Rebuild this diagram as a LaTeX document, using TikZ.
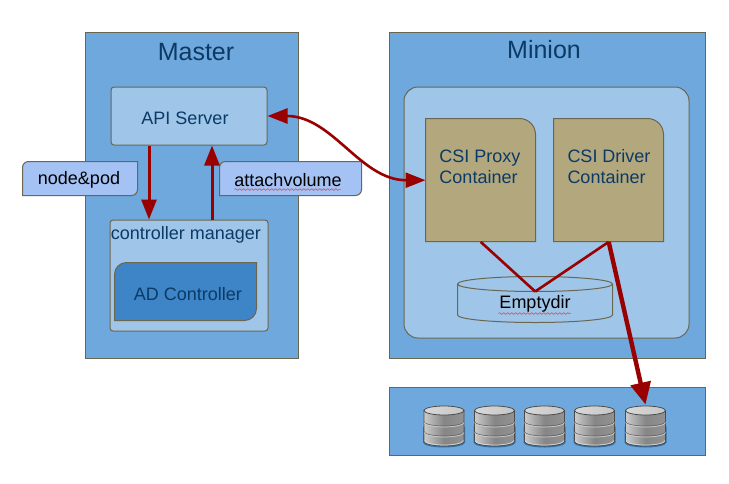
\documentclass[tikz,border=0pt]{standalone}
\usepackage{fontspec}
\usepackage{xcolor}
\usepackage{tikz}
\usetikzlibrary{arrows.meta,positioning,decorations.pathmorphing}
\setmainfont{Liberation Sans}

\definecolor{panelblue}{HTML}{6FA8DC}
\definecolor{softblue}{HTML}{9FC5E8}
\definecolor{deepblue}{HTML}{3D85C6}
\definecolor{tagblue}{HTML}{A4C2F4}
\definecolor{tanbox}{HTML}{B3A77D}
\definecolor{edgegray}{HTML}{6B6650}
\definecolor{inkblue}{HTML}{0B3A66}
\definecolor{linkred}{HTML}{990000}

\begin{document}
\begin{tikzpicture}[
  x=1pt, y=-1pt,
  panel/.style={draw=edgegray, fill=panelblue, line width=1pt, minimum width=#1, anchor=north west, inner sep=0pt},
  inner/.style={draw=edgegray, fill=softblue, line width=1pt, rounded corners=3pt, anchor=north west, inner sep=0pt},
  title/.style={text=inkblue, font=\fontsize{25}{29}\selectfont, inner sep=0pt},
  label/.style={text=inkblue, font=\fontsize{18}{21}\selectfont, align=left, inner sep=0pt},
  tag/.style={text=black, font=\fontsize{18}{21}\selectfont, inner sep=0pt},
  slot/.style={minimum width=#1, inner sep=0pt, anchor=north west},
  corner/.style={draw=edgegray, line width=1pt},
  squiggle/.style={draw=red!70!white, line width=0.7pt, decorate, decoration={snake, amplitude=0.8pt, segment length=4pt}},
  link/.style={linkred, line width=3pt},
  arr/.style={-{Triangle[length=20pt, width=15pt]}, link},
  bothway/.style={{Triangle[length=20pt, width=15pt]}-{Triangle[length=20pt, width=15pt]}, link, line width=2.6pt},
  bigarr/.style={-{Triangle[length=22pt, width=20pt]}, linkred, line width=4.4pt},
  dbstack/.pic={
    \fill[inkblue, opacity=0.5] (-21,0) -- (21,0) -- (21,16) arc[start angle=0, end angle=-180, x radius=21pt, y radius=5pt] -- cycle;
    \shade[left color=gray!40!white, right color=gray!85!white, middle color=gray!95!white, draw=gray!60!black, line width=0.8pt]
      (-20,-16) -- (-20,15) arc[start angle=180, end angle=360, x radius=20pt, y radius=4.5pt] -- (20,-16) -- cycle;
    \foreach \d in {-5,5} {
      \draw[gray!70!black, line width=0.5pt] (-20,\d) arc[start angle=180, end angle=360, x radius=20pt, y radius=4.5pt];
      \draw[gray!40!white, line width=0.7pt] (-20,\d+1) arc[start angle=180, end angle=360, x radius=20pt, y radius=4.5pt];
    }
    \draw[gray!30!white, line width=0.7pt] (-19.5,14) arc[start angle=180, end angle=360, x radius=19.5pt, y radius=4.5pt];
    \shade[left color=gray!30!white, right color=gray!45!white, draw=gray!60!black, line width=0.8pt] (0,-16) ellipse[x radius=20, y radius=4.5];
  }
]
\useasboundingbox (0.5,0.5) rectangle (729.5,483.5);

% master side
\node[panel=213pt, minimum height=326pt] (master) at (85,32) {};
\node[title] (mastertitle) at (196.5,52.5) {Master};
\node[inner, minimum width=156pt, minimum height=58pt] (api) at (111,87) {};
\node[label] (apitext) at (185.5,119) {API Server};
\node[inner, minimum width=158pt, minimum height=111pt] (ctrl) at (110,220) {};
\node[label] (ctrltext) at (186.5,235.5) {controller manager};

\node[slot=142pt, minimum height=58pt] (adbox) at (115,263) {};
\draw[corner, fill=deepblue] (257,263) [rounded corners=12pt] -- (257,321) [sharp corners] -- (115,321) [rounded corners=12pt] -- (115,263) [sharp corners] -- cycle;
\node[label] (adtext) at (188.5,295) {AD Controller};

\draw[corner, fill=tagblue] (138,162) [rounded corners=6pt] -- (138,196) [sharp corners] -- (23,196) [rounded corners=6pt] -- (23,162) [sharp corners] -- cycle;
\node[tag] (nodepod) at (79.5,180.5) {node\&pod};
\draw[corner, fill=tagblue] (362,162) [rounded corners=6pt] -- (362,196) [sharp corners] -- (220,196) [rounded corners=6pt] -- (220,162) [sharp corners] -- cycle;
\node[tag] (attach) at (288.5,180.5) {attachvolume};
\draw[squiggle] (235,190) -- (341,190);

% minion side
\node[panel=316pt, minimum height=326pt] (minion) at (389,32) {};
\node[title] (miniontitle) at (544.5,50.5) {Minion};
\node[inner, rounded corners=14pt, minimum width=285pt, minimum height=251pt] (pod) at (404,87) {};

\node[slot=110pt, minimum height=123pt] (proxy) at (426,119) {};
\draw[corner, fill=tanbox] (426,119) [rounded corners=16pt] -- (536,119) [sharp corners] -- (536,242) -- (426,242) -- cycle;
\node[label] (proxytext) at (480.5,167.5) {CSI Proxy\\Container};
\node[slot=110pt, minimum height=123pt] (driver) at (554,119) {};
\draw[corner, fill=tanbox] (554,119) [rounded corners=16pt] -- (664,119) [sharp corners] -- (664,242) -- (554,242) -- cycle;
\node[label] (drivertext) at (609.5,167.5) {CSI Driver\\Container};

\node[slot=155pt, minimum height=46pt] (emptydir) at (458,277) {};
\draw[corner, fill=softblue] (458,284.5) -- (458,315.5) arc[start angle=180, end angle=360, x radius=77.5pt, y radius=7.5pt] -- (613,284.5) arc[start angle=0, end angle=360, x radius=77.5pt, y radius=7.5pt];
\node[tag] (emptytext) at (535.5,304) {Emptydir};
\draw[squiggle] (499,314) -- (571,314);

% storage
\node[panel=316pt, minimum height=68pt] (store) at (389,387) {};
\foreach \i/\x in {1/444.5,2/495,3/545,4/595,5/646} {
  \pic at (\x,427) {dbstack};
  \coordinate (disk\i) at (\x,405);
}

% links
\draw[arr] ([xshift=-40pt]api.south) -- ([xshift=-40pt]ctrl.north);
\draw[arr] ([xshift=23pt]ctrl.north) -- ([xshift=23pt]api.south);
\draw[bothway] (api.east) .. controls +(65,0) and +(-65,0) .. (proxy.west);
\draw[link, line width=2.6pt] (proxy.south) -- ([yshift=-15pt]emptydir.north);
\draw[link, line width=2.6pt] (driver.south) -- ([yshift=-15pt]emptydir.north);
\draw[bigarr] (driver.south) -- (disk5);
\end{tikzpicture}
\end{document}
